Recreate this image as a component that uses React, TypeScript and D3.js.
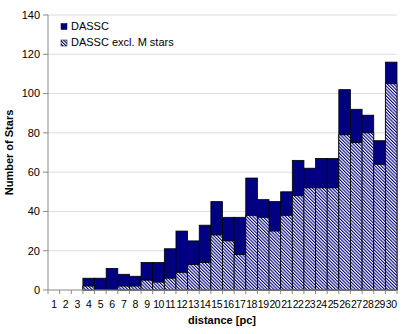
import React from "react";
import * as d3 from "d3";

const distances = d3.range(1, 31).map(String);
const dassc = [0, 0, 0, 6, 6, 11, 8, 7, 14, 14, 21, 30, 25, 33, 45, 37, 37, 57, 46, 45, 50, 66, 62, 67, 67, 102, 92, 89, 76, 116];
const dasscExclM = [0, 0, 0, 2, 0, 0, 2, 2, 5, 4, 6, 9, 13, 14, 28, 25, 18, 38, 37, 30, 38, 48, 52, 52, 52, 79, 75, 80, 64, 105];
const yTicks = [0, 20, 40, 60, 80, 100, 120, 140];
const seriesNames = ["DASSC", "DASSC excl. M stars"];

export default function App() {
  const W = 409, H = 334;
  const left = 48, right = 397, top = 15, bottom = 290;
  const x = d3.scaleBand<string>().domain(distances).range([left, right]).padding(0);
  const y = d3.scaleLinear().domain([0, 140]).range([bottom, top]);
  const font = "'Liberation Sans', Arial, sans-serif";
  const navy = "#000080";
  return (
    <svg width={W} height={H} style={{ position: "absolute", left: 0, top: 0 }} fontFamily={font}>
      <defs>
        <pattern id="hatch" width="2.3" height="3" patternUnits="userSpaceOnUse" patternTransform="rotate(-45)">
          <rect width="2.3" height="3" fill="#ffffff" />
          <rect x="0" y="0" width="1.1" height="3" fill={navy} />
        </pattern>
      </defs>
      <rect width={W} height={H} fill="#fff" />
      {yTicks.filter(t => t > 0).map(t => (
        <line key={t} x1={left} x2={right} y1={y(t)} y2={y(t)} stroke="#dcdcdc" strokeWidth={1} />
      ))}
      {distances.map((d, i) => dassc[i] > 0 ? (
        <rect key={"t" + d} x={x(d)!} y={y(dassc[i])} width={x.bandwidth()} height={y(0) - y(dassc[i])}
          fill={navy} stroke="#000" strokeWidth={0.8} />
      ) : null)}
      {distances.map((d, i) => dasscExclM[i] > 0 ? (
        <rect key={"h" + d} x={x(d)!} y={y(dasscExclM[i])} width={x.bandwidth()} height={y(0) - y(dasscExclM[i])}
          fill="url(#hatch)" stroke="#000" strokeWidth={0.8} />
      ) : null)}
      <line x1={left} x2={left} y1={top} y2={bottom} stroke="#888" />
      <line x1={left} x2={right} y1={bottom} y2={bottom} stroke="#888" />
      {yTicks.map(t => (
        <g key={"yt" + t}>
          <line x1={left - 5} x2={left} y1={y(t)} y2={y(t)} stroke="#888" />
          <text x={left - 8} y={y(t)} dy="0.35em" textAnchor="end" fontSize={11} fill="#000">{t}</text>
        </g>
      ))}
      {distances.map((d, i) => (
        <g key={"xt" + d}>
          <line x1={x(d)!} x2={x(d)!} y1={bottom} y2={bottom + 4} stroke="#888" />
          <text x={x(d)! + x.bandwidth() / 2} y={bottom + 18} textAnchor="middle" fontSize={10.5} letterSpacing={-0.5} fill="#000">{d}</text>
        </g>
      ))}
      <line x1={right} x2={right} y1={bottom} y2={bottom + 4} stroke="#888" />
      <text x={222} y={324} textAnchor="middle" fontSize={11} fontWeight="bold">distance [pc]</text>
      <text transform={`translate(13,${(top + bottom) / 2}) rotate(-90)`} textAnchor="middle" fontSize={11} fontWeight="bold">Number of Stars</text>
      <rect x={61} y={23.5} width={6} height={6} fill={navy} stroke="#000" strokeWidth={0.5} />
      <text x={71} y={29.5} fontSize={11}>{seriesNames[0]}</text>
      <rect x={61} y={40} width={6} height={6} fill="url(#hatch)" stroke="#000" strokeWidth={0.5} />
      <text x={71} y={46} fontSize={11}>{seriesNames[1]}</text>
    </svg>
  );
}
